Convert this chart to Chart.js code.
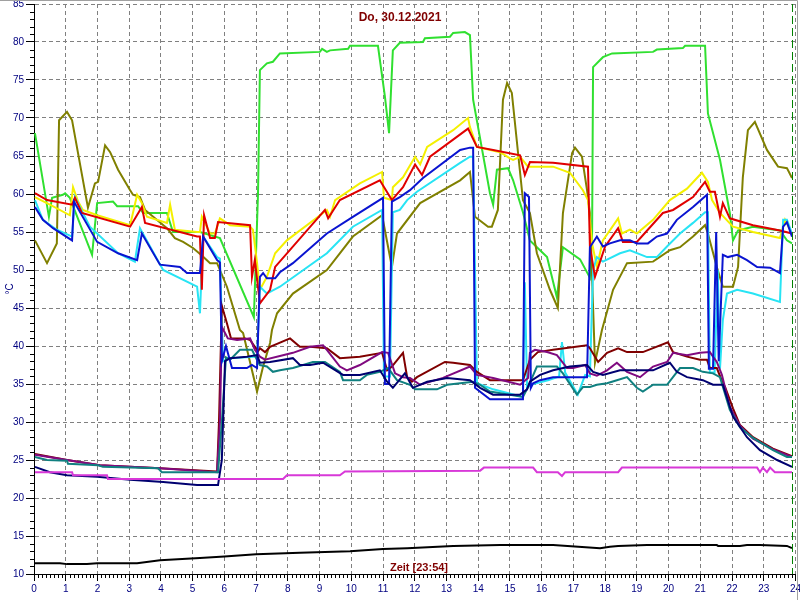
<!DOCTYPE html>
<html>
<head>
<meta charset="utf-8">
<script src="https://cdn.jsdelivr.net/npm/chart.js@4.4.0/dist/chart.umd.min.js"></script>
<style>
html,body{margin:0;padding:0;background:#fff;}
canvas{display:block;}
</style>
</head>
<body>
<canvas id="c" width="800" height="600" style="width:800px;height:600px"></canvas>
<script>
// ---- DATA (hour, °C) ----
const titleText = "Do, 30.12.2021";
const xTitleText = "Zeit [23:54]";
const yTitleText = "°C";
const nowHour = 23.9;

const green = [[0.03,68.0],[0.47,57.0],[0.57,59.5],[0.91,59.9],[0.98,60.1],[1.13,59.5],[1.83,52.0],[1.99,58.8],[2.49,59.0],[2.62,58.4],[3.28,58.4],[3.44,57.5],[4.19,57.5],[4.38,55.0],[5.23,55.0],[5.86,54.2],[6.93,43.8],[7.06,60.0],[7.12,76.3],[7.34,77.2],[7.53,77.4],[7.75,78.5],[9.01,78.7],[9.08,79.1],[9.23,78.7],[9.33,78.9],[9.90,79.1],[9.96,79.5],[10.84,79.5],[11.06,72.8],[11.19,68.0],[11.31,78.9],[11.53,79.9],[12.26,80.0],[12.32,80.5],[13.11,80.7],[13.21,81.2],[13.58,81.3],[13.74,80.9],[13.84,72.4],[14.37,60.1],[14.47,58.6],[14.59,63.2],[14.94,63.4],[15.10,61.8],[15.41,57.6],[15.63,53.9],[16.17,51.7],[16.48,46.4],[16.67,53.0],[17.21,51.4],[17.52,49.0],[17.59,55.0],[17.62,76.7],[17.93,78.0],[18.22,78.5],[19.51,78.7],[19.63,79.0],[20.45,79.2],[20.52,79.5],[21.15,79.5],[21.24,70.6],[21.62,64.5],[21.93,57.5],[22.03,53.9],[22.19,55.2],[22.66,55.7],[23.51,55.2],[23.73,53.9],[23.89,53.5]];

const olive = [[0.03,53.9],[0.41,50.9],[0.72,53.5],[0.79,69.7],[1.04,70.8],[1.20,69.7],[1.70,58.2],[1.92,61.4],[2.02,61.6],[2.24,66.4],[2.40,65.5],[2.65,63.2],[3.03,60.5],[3.12,59.9],[3.34,59.6],[3.50,57.9],[4.19,55.5],[4.44,54.2],[4.70,53.7],[5.01,52.9],[5.29,51.9],[5.55,50.9],[5.77,50.9],[6.08,47.8],[6.49,42.1],[6.59,41.7],[7.03,34.0],[7.22,37.3],[7.44,40.4],[7.50,42.1],[7.66,44.3],[8.16,46.9],[9.23,50.0],[10.05,54.4],[10.97,57.2],[11.28,50.4],[11.44,54.8],[12.17,58.8],[13.43,61.8],[13.74,62.9],[13.90,57.0],[14.31,55.7],[14.43,55.7],[14.62,57.9],[14.78,72.4],[14.91,74.6],[15.06,73.3],[15.41,59.2],[15.63,57.5],[15.85,52.2],[16.26,47.4],[16.51,45.0],[16.67,57.5],[16.96,65.4],[17.05,66.1],[17.27,64.9],[17.43,60.5],[17.52,57.5],[17.68,37.8],[17.90,42.1],[18.25,47.4],[18.69,50.9],[19.51,51.1],[20.04,52.6],[20.36,53.0],[20.77,54.4],[21.15,55.9],[21.24,54.8],[21.52,50.4],[21.71,47.8],[22.03,47.8],[22.19,50.4],[22.34,62.2],[22.50,68.4],[22.72,69.5],[23.10,65.8],[23.45,63.6],[23.73,63.4],[23.89,62.1]];

const yellow = [[0.03,59.6],[0.50,58.6],[1.13,57.2],[1.23,60.9],[1.39,59.0],[1.54,57.9],[1.99,57.2],[3.03,55.9],[3.25,59.9],[3.40,58.8],[3.56,57.0],[4.19,56.2],[4.29,58.6],[4.44,55.3],[5.14,55.0],[5.23,55.0],[5.29,57.0],[5.55,54.8],[5.70,54.8],[5.86,56.8],[6.18,55.9],[6.81,55.7],[6.90,55.3],[7.03,50.9],[7.12,47.4],[7.34,49.1],[7.60,52.2],[7.97,53.9],[9.11,57.5],[9.23,57.9],[9.33,57.0],[9.49,59.2],[10.27,61.4],[10.97,62.9],[11.03,59.5],[11.28,59.2],[11.31,60.9],[11.63,62.2],[12.01,64.9],[12.17,63.9],[12.39,66.2],[13.21,68.4],[13.68,70.0],[13.74,68.8],[13.96,66.2],[14.69,65.5],[15.00,64.7],[15.10,64.5],[15.32,64.9],[15.57,63.6],[16.36,63.6],[16.89,62.8],[17.30,60.5],[17.46,59.2],[17.59,53.5],[17.74,50.4],[17.93,53.9],[18.41,56.8],[18.53,54.8],[18.78,55.3],[19.00,54.8],[19.51,56.6],[20.04,59.2],[20.58,60.7],[21.05,62.8],[21.24,61.6],[21.37,59.2],[21.62,57.5],[22.03,55.7],[22.66,55.0],[23.51,54.2],[23.67,56.6],[23.89,54.8]];

const red = [[0.03,60.1],[0.41,59.2],[1.20,58.6],[1.29,59.5],[1.51,57.5],[3.03,55.7],[3.40,58.3],[3.50,56.2],[5.14,54.4],[5.23,54.4],[5.29,47.4],[5.36,57.2],[5.55,54.2],[5.70,54.2],[5.80,56.3],[6.81,55.9],[6.87,49.1],[6.96,51.3],[7.12,45.6],[7.44,47.4],[7.60,50.4],[9.17,57.9],[9.27,56.8],[9.64,59.2],[10.90,61.8],[11.28,59.2],[11.63,60.9],[12.01,63.9],[12.23,62.5],[12.48,64.9],[13.68,68.6],[13.96,66.2],[14.47,65.8],[15.32,65.1],[15.47,62.5],[15.63,64.2],[16.36,64.1],[17.46,63.6],[17.52,53.1],[17.68,49.1],[18.00,53.1],[18.41,55.5],[18.56,53.7],[19.00,53.7],[19.82,57.5],[20.14,57.9],[20.77,59.6],[21.15,61.6],[21.30,60.3],[21.46,60.3],[21.62,57.0],[21.71,58.8],[21.93,56.8],[22.66,55.9],[23.51,55.2],[23.89,54.8]];

const blue = [[0.03,58.3],[0.28,56.6],[0.60,55.5],[1.20,53.9],[1.26,59.0],[1.99,53.7],[2.65,52.2],[3.25,51.3],[3.40,54.8],[3.97,50.7],[4.60,50.4],[4.82,49.6],[5.23,49.6],[5.33,54.4],[5.77,51.3],[5.86,51.0],[5.92,38.0],[6.05,40.0],[6.24,37.1],[6.71,37.1],[6.87,37.5],[7.03,37.1],[7.12,49.1],[7.22,49.6],[7.34,48.9],[7.60,48.9],[7.75,49.7],[8.16,50.9],[9.23,54.8],[10.05,57.0],[11.00,59.5],[11.06,35.0],[11.19,35.0],[11.28,59.0],[11.53,59.6],[11.85,60.5],[12.26,62.1],[13.43,65.8],[13.74,66.1],[13.84,66.1],[13.90,34.5],[14.37,33.0],[15.41,33.0],[15.47,60.1],[15.60,59.6],[15.66,34.5],[15.73,35.1],[15.95,35.5],[16.36,35.9],[17.43,35.9],[17.52,53.0],[17.74,54.4],[17.93,53.1],[18.15,53.5],[18.47,53.9],[18.78,53.9],[19.00,53.5],[19.35,53.5],[19.63,54.4],[19.95,54.8],[20.26,56.6],[20.77,58.3],[21.21,59.9],[21.27,37.0],[21.40,37.0],[21.50,55.0],[21.58,38.0],[21.71,52.0],[21.87,51.7],[22.16,52.0],[22.47,51.3],[22.79,50.4],[23.20,50.3],[23.51,49.6],[23.61,55.7],[23.73,56.3],[23.89,54.4]];

const cyan = [[0.03,59.2],[0.28,56.6],[0.72,55.3],[1.20,54.4],[1.29,59.6],[1.76,55.7],[2.65,52.2],[3.18,51.1],[3.34,55.5],[4.07,50.0],[5.14,47.8],[5.23,44.3],[5.33,54.4],[5.77,51.7],[5.86,51.5],[5.96,38.0],[6.18,38.4],[7.03,38.6],[7.12,47.8],[7.34,46.9],[7.75,47.8],[9.23,52.2],[10.05,55.7],[10.97,57.9],[11.03,36.0],[11.22,36.0],[11.31,57.6],[11.53,57.9],[11.76,59.2],[12.07,60.3],[13.43,64.1],[13.74,64.9],[13.84,64.9],[13.96,35.1],[14.47,34.3],[15.41,33.3],[15.47,48.4],[15.54,34.5],[15.73,35.0],[16.20,35.5],[16.55,36.0],[16.64,40.5],[16.74,36.5],[17.14,33.6],[17.37,36.2],[17.52,36.0],[17.62,50.0],[17.74,51.7],[17.93,51.1],[18.47,52.2],[18.78,52.6],[19.32,51.7],[19.63,51.7],[19.95,53.1],[20.36,54.8],[20.77,56.2],[21.15,57.6],[21.24,57.6],[21.30,36.5],[21.45,36.5],[21.55,50.0],[21.62,37.0],[21.71,43.4],[21.84,46.9],[22.16,47.4],[22.66,46.9],[23.51,45.8],[23.61,56.6],[23.73,56.6],[23.89,54.8]];

const maroon = [[0.03,25.8],[1.04,25.0],[2.08,24.3],[3.97,23.9],[5.77,23.5],[5.83,30.0],[5.92,45.3],[6.08,43.0],[6.21,41.0],[6.65,41.0],[6.81,40.8],[7.06,39.3],[7.12,39.7],[7.28,39.2],[7.44,39.9],[8.07,41.0],[8.38,39.9],[8.70,39.9],[9.23,39.7],[9.64,38.4],[10.27,38.6],[10.97,39.1],[11.13,36.8],[11.28,37.3],[11.63,39.1],[11.76,35.9],[11.91,35.3],[12.07,35.9],[12.95,37.9],[13.21,37.8],[13.74,37.5],[13.96,36.6],[14.37,35.5],[15.41,35.5],[15.63,38.2],[15.88,39.2],[16.36,39.5],[17.43,40.1],[17.52,39.7],[17.78,37.9],[18.06,39.1],[18.41,39.7],[18.69,39.2],[19.19,39.2],[19.98,40.5],[20.14,39.2],[20.58,38.6],[20.99,38.2],[21.21,38.2],[21.30,37.1],[21.52,37.1],[21.71,35.1],[21.78,34.6],[22.03,31.8],[22.25,29.6],[22.66,28.0],[23.29,26.5],[23.89,25.5]];

const purple = [[0.03,25.7],[1.04,25.0],[2.08,24.3],[3.97,23.9],[5.77,23.4],[5.86,30.0],[5.92,42.5],[6.11,41.0],[6.40,40.8],[6.81,41.0],[6.96,39.5],[7.12,38.6],[7.28,38.2],[8.16,39.1],[8.70,39.9],[9.11,40.1],[9.23,39.5],[9.64,37.3],[9.86,36.8],[10.27,37.5],[10.97,39.2],[11.16,39.1],[11.38,36.4],[11.63,35.9],[11.85,35.8],[12.17,34.9],[12.89,35.8],[13.74,37.3],[13.96,36.2],[14.47,35.8],[15.32,34.9],[15.57,35.8],[15.63,39.1],[15.79,39.5],[16.17,39.2],[16.48,38.8],[16.80,37.1],[16.99,37.1],[17.37,37.5],[17.52,36.4],[17.74,36.1],[18.06,36.8],[18.37,37.8],[18.69,36.6],[19.10,35.9],[19.51,37.3],[19.95,37.9],[20.14,39.1],[20.58,38.8],[20.99,39.1],[21.30,39.2],[21.52,37.9],[21.68,36.2],[21.93,32.0],[22.25,29.5],[22.66,27.8],[23.29,26.4],[23.89,25.4]];

const teal = [[0.03,25.4],[0.41,25.0],[1.04,24.9],[1.07,24.5],[2.02,24.3],[2.17,24.1],[3.91,23.9],[4.03,23.4],[5.80,23.4],[5.92,30.0],[6.05,38.5],[6.18,38.2],[6.49,39.5],[6.87,39.5],[7.06,37.9],[7.12,37.5],[7.34,37.3],[7.53,36.6],[7.75,36.8],[8.16,37.1],[8.48,37.5],[8.79,37.9],[9.17,37.9],[9.64,36.6],[9.74,35.5],[10.27,35.5],[10.49,36.2],[10.90,36.6],[11.16,37.1],[11.44,35.5],[11.85,34.9],[12.01,34.3],[12.70,34.3],[13.02,34.9],[13.84,35.3],[14.06,34.9],[14.37,34.0],[15.41,33.3],[15.57,34.6],[15.85,37.3],[16.48,37.3],[16.67,36.4],[17.11,33.6],[17.30,34.6],[17.52,34.6],[17.74,34.9],[18.06,35.1],[18.37,35.5],[18.69,35.9],[19.00,34.5],[19.19,34.0],[19.51,34.9],[19.95,34.9],[20.36,37.1],[20.77,37.1],[21.08,36.6],[21.40,36.4],[21.62,35.9],[21.93,31.6],[22.25,29.3],[22.66,27.9],[23.29,26.3],[23.73,25.4],[23.89,25.4]];

const navy = [[0.03,24.1],[0.50,23.4],[1.04,23.0],[1.99,22.8],[3.03,22.4],[4.07,22.1],[5.14,21.7],[5.80,21.7],[5.92,25.0],[6.02,38.0],[6.18,38.4],[6.71,38.6],[7.03,38.8],[7.12,37.8],[7.44,37.9],[8.16,38.4],[8.38,37.5],[8.70,37.5],[9.11,37.8],[9.74,36.2],[10.27,36.2],[10.90,36.8],[11.13,35.3],[11.31,34.5],[11.69,36.4],[11.94,34.5],[12.39,35.3],[13.02,35.8],[13.74,35.5],[14.06,34.5],[14.47,33.6],[15.32,33.6],[15.54,34.3],[15.63,35.3],[15.95,36.2],[16.36,36.8],[16.89,37.3],[17.43,37.5],[17.62,36.6],[17.93,36.2],[18.47,36.8],[19.51,36.8],[20.04,37.8],[20.26,36.6],[20.58,35.9],[21.08,35.5],[21.40,34.9],[21.71,34.9],[22.03,30.7],[22.47,28.0],[22.88,26.3],[23.42,25.0],[23.89,24.1]];

const magenta = [[0.03,23.4],[1.20,23.4],[1.23,23.0],[2.30,23.0],[2.33,22.5],[7.85,22.5],[7.97,23.0],[9.64,23.0],[9.80,23.5],[14.06,23.6],[14.18,24.0],[15.73,24.0],[15.85,23.4],[16.51,23.4],[16.64,22.9],[16.74,23.4],[18.41,23.4],[18.53,24.0],[22.79,24.0],[22.88,23.4],[22.97,24.0],[23.10,23.4],[23.20,24.0],[23.35,23.4],[23.89,23.4]];

const black = [[0.03,11.4],[0.82,11.4],[1.04,11.3],[1.67,11.3],[1.99,11.4],[3.25,11.4],[3.97,11.8],[5.23,12.1],[6.00,12.3],[7.00,12.6],[8.38,12.8],[9.96,13.0],[11.00,13.3],[11.76,13.4],[13.21,13.7],[14.69,13.8],[16.36,13.8],[17.50,13.5],[17.84,13.4],[18.15,13.6],[18.41,13.7],[19.32,13.8],[21.52,13.8],[21.56,13.7],[22.25,13.7],[22.47,13.8],[22.88,13.8],[23.73,13.7],[23.89,13.4]];

// top-most first (Chart.js draws index 0 last)
const seriesList = [
  {name:'black',   data:black,   color:'#000000'},
  {name:'magenta', data:magenta, color:'#d838d8'},
  {name:'navy',    data:navy,    color:'#000070'},
  {name:'blue',    data:blue,    color:'#0a14d0'},
  {name:'teal',    data:teal,    color:'#108080'},
  {name:'purple',  data:purple,  color:'#800a80'},
  {name:'maroon',  data:maroon,  color:'#800000'},
  {name:'red',     data:red,     color:'#e00000'},
  {name:'cyan',    data:cyan,    color:'#28e4f4'},
  {name:'yellow',  data:yellow,  color:'#f4f000'},
  {name:'olive',   data:olive,   color:'#808000'},
  {name:'green',   data:green,   color:'#30e030'}
];

const datasets = seriesList.map(s => ({
  label: s.name,
  data: s.data.map(p => ({x: p[0], y: p[1]})),
  borderColor: s.color,
  backgroundColor: s.color,
  borderWidth: 2,
  pointRadius: 0,
  tension: 0,
  fill: false
}));

const deco = {
  id: 'deco',
  afterDatasetsDraw(chart) {
    const ctx = chart.ctx, xs = chart.scales.x, ys = chart.scales.y, ca = chart.chartArea;
    ctx.save();
    const nx = Math.round(xs.getPixelForValue(nowHour)) + 0.5;
    ctx.strokeStyle = '#008000'; ctx.lineWidth = 1; ctx.setLineDash([8,4]);
    ctx.beginPath(); ctx.moveTo(nx, ca.top); ctx.lineTo(nx, ca.bottom); ctx.stroke();
    ctx.setLineDash([]);
    ctx.strokeStyle = '#000000';
    ctx.beginPath();
    for (let v = 11; v < 85; v++) {
      if (v % 5 === 0) continue;
      const py = Math.round(ys.getPixelForValue(v)) + 0.5;
      ctx.moveTo(ca.left - 4, py); ctx.lineTo(ca.left, py);
    }
    for (let k = 1; k < 192; k++) {
      if (k % 8 === 0) continue;
      const px = Math.round(xs.getPixelForValue(k / 8)) + 0.5;
      ctx.moveTo(px, ca.bottom); ctx.lineTo(px, ca.bottom + 4);
    }
    ctx.stroke();
    ctx.fillStyle = '#800000';
    ctx.textAlign = 'center'; ctx.textBaseline = 'middle';
    ctx.font = 'bold 12px "Liberation Sans", Arial, sans-serif';
    ctx.fillText(titleText, 400, 18);
    ctx.font = 'bold 11px "Liberation Sans", Arial, sans-serif';
    ctx.fillText(xTitleText, 419, 568);
    ctx.strokeStyle = '#a0a0a0'; ctx.lineWidth = 1;
    ctx.beginPath(); ctx.moveTo(0, 0.5); ctx.lineTo(797.5, 0.5); ctx.lineTo(797.5, 600); ctx.stroke();
    ctx.restore();
  }
};

const tickFont = {family: '"Liberation Sans", Arial, sans-serif', size: 10};

new Chart(document.getElementById('c'), {
  type: 'line',
  data: {datasets},
  options: {
    responsive: false,
    animation: false,
    layout: {padding: {left: 0, top: 4, right: 4.5, bottom: 0}},
    plugins: {legend: {display: false}, tooltip: {enabled: false}, title: {display: false}},
    scales: {
      x: {
        type: 'linear', min: 0, max: 24,
        ticks: {stepSize: 1, autoSkip: false, maxRotation: 0, color: '#000080', font: tickFont, padding: 2},
        grid: {color: '#808080', lineWidth: 1, tickLength: 7, tickColor: '#000000', tickWidth: 1},
        border: {display: true, color: '#000000', width: 1, dash: [4,3]},
        afterFit(s) { s.height = 26; s.paddingLeft = 0; s.paddingRight = 0; }
      },
      y: {
        type: 'linear', min: 10, max: 85,
        ticks: {stepSize: 5, color: '#000080', font: tickFont, padding: 2},
        grid: {color: '#808080', lineWidth: 1, tickLength: 8, tickColor: '#000000', tickWidth: 1},
        border: {display: true, color: '#000000', width: 1, dash: [4,3]},
        title: {display: true, text: yTitleText, color: '#000080', font: tickFont, padding: {top: 4, bottom: 0}},
        afterFit(s) { s.width = 34; s.paddingTop = 0; s.paddingBottom = 0; }
      }
    }
  },
  plugins: [deco]
});
</script>
</body>
</html>
